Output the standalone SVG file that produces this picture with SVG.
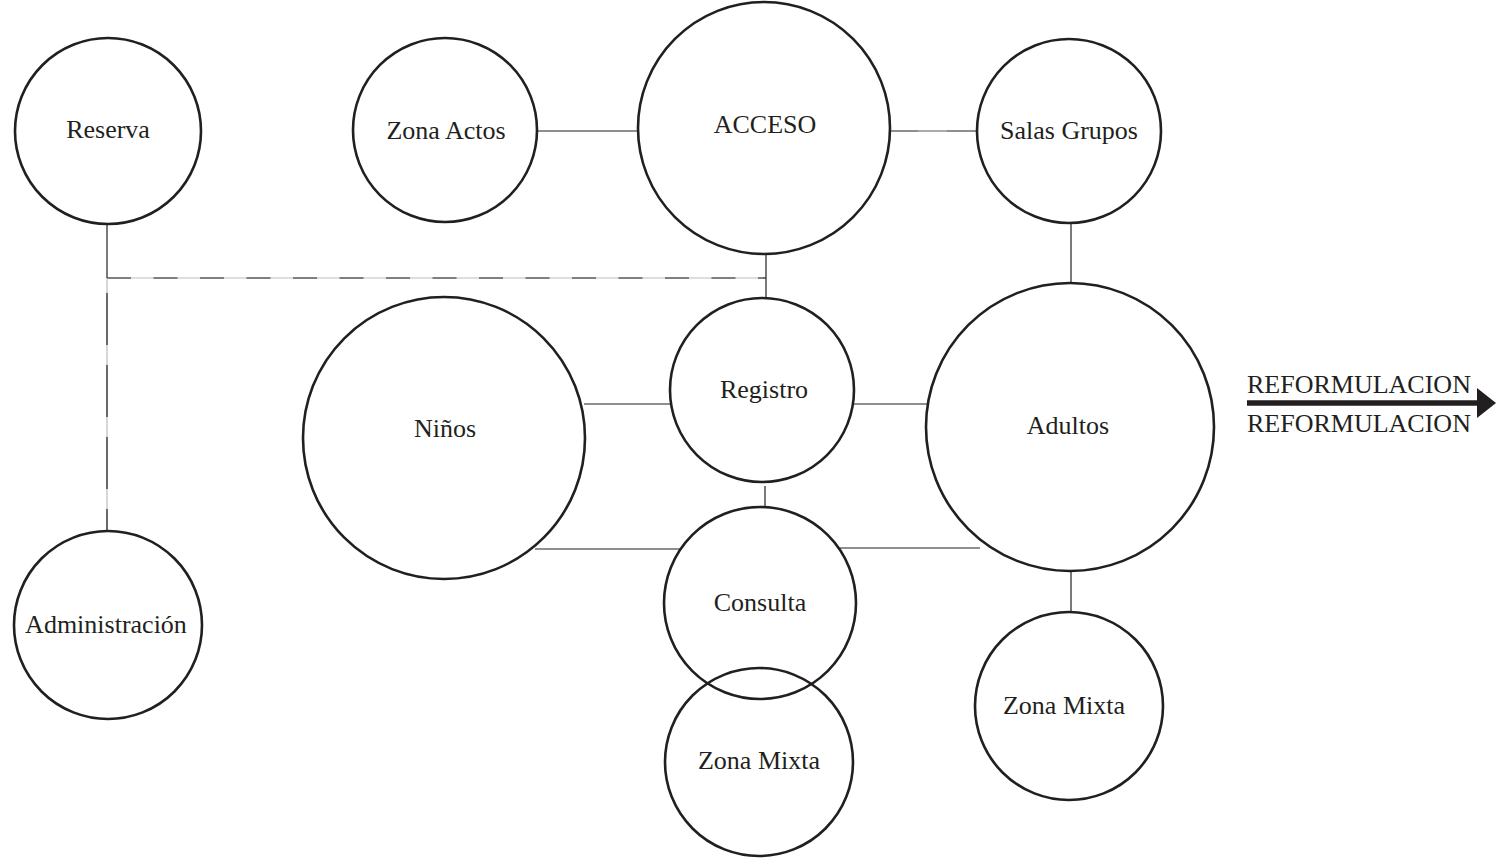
<svg xmlns="http://www.w3.org/2000/svg" width="1497" height="858" viewBox="0 0 1497 858">
<style>
.n{fill:#fff;stroke:#231f20;stroke-width:2.6}
.t{font-family:"Liberation Serif",serif;font-size:26px;fill:#231f20;text-anchor:middle}
.l{font-family:"Liberation Serif",serif;font-size:26px;fill:#231f20}
.c{stroke:#231f20;stroke-width:1.2;fill:none}
.g{stroke:#bdbdbd;stroke-width:1.2;fill:none}
</style>
<rect width="1497" height="858" fill="#fff"/>
<g id="connectors">
<line class="c" x1="537" y1="131" x2="638" y2="131"/>
<line class="c" x1="889" y1="131" x2="977" y2="131"/>
<line class="g" x1="918" y1="131" x2="947" y2="131"/>
<line class="c" x1="1071" y1="223" x2="1071" y2="296"/>
<line class="c" x1="584" y1="404" x2="671" y2="404"/>
<line class="c" x1="853" y1="404" x2="931" y2="404"/>
<line class="c" x1="765" y1="486" x2="765" y2="509"/>
<line class="c" x1="535" y1="549" x2="683" y2="549"/>
<line class="c" x1="836" y1="548" x2="980" y2="548"/>
<line class="c" x1="1071" y1="570" x2="1071" y2="613"/>
<line class="c" x1="766" y1="254" x2="766" y2="298"/>
<line class="g" x1="107" y1="278" x2="766" y2="278"/>
<line class="c" x1="107" y1="278" x2="766" y2="278" stroke-dasharray="24 22.5"/>
<line class="c" x1="107" y1="224" x2="107" y2="278"/>
<line class="g" x1="107" y1="278" x2="107" y2="532"/>
<line class="c" x1="107" y1="293" x2="107" y2="532" stroke-dasharray="52 20"/>
<line x1="1247" y1="403" x2="1480" y2="403" stroke="#231f20" stroke-width="5.5"/>
<polygon points="1477,388 1496,403 1477,418" fill="#231f20"/>
</g>
<g id="reserva"><circle class="n" cx="108" cy="131" r="93"/><text class="t" x="108" y="138">Reserva</text></g>
<g id="zona-actos"><circle class="n" cx="445" cy="130" r="92"/><text class="t" x="446" y="139">Zona Actos</text></g>
<g id="acceso"><circle class="n" cx="764" cy="128" r="126"/><text class="t" x="765" y="133">ACCESO</text></g>
<g id="salas-grupos"><circle class="n" cx="1069" cy="131" r="92"/><text class="t" x="1069" y="139">Salas Grupos</text></g>
<g id="ninos"><circle class="n" cx="444" cy="438" r="141"/><text class="t" x="445" y="437">Niños</text></g>
<g id="registro"><circle class="n" cx="762" cy="390" r="92"/><text class="t" x="764" y="398">Registro</text></g>
<g id="adultos"><circle class="n" cx="1070" cy="427" r="144"/><text class="t" x="1068" y="434">Adultos</text></g>
<g id="consulta"><circle class="n" cx="760" cy="603" r="96"/><text class="t" x="760" y="611">Consulta</text></g>
<g id="zona-mixta-1"><circle class="n" cx="759" cy="762" r="94" style="fill:none"/><text class="t" x="759" y="769">Zona Mixta</text></g>
<g id="zona-mixta-2"><circle class="n" cx="1069" cy="706" r="94"/><text class="t" x="1064" y="714">Zona Mixta</text></g>
<g id="administracion"><circle class="n" cx="108" cy="625" r="94"/><text class="t" x="106" y="633">Administración</text></g>
<g id="reformulacion">
<text class="l" x="1247" y="393">REFORMULACION</text>
<text class="l" x="1247" y="432">REFORMULACION</text>
</g>
</svg>
